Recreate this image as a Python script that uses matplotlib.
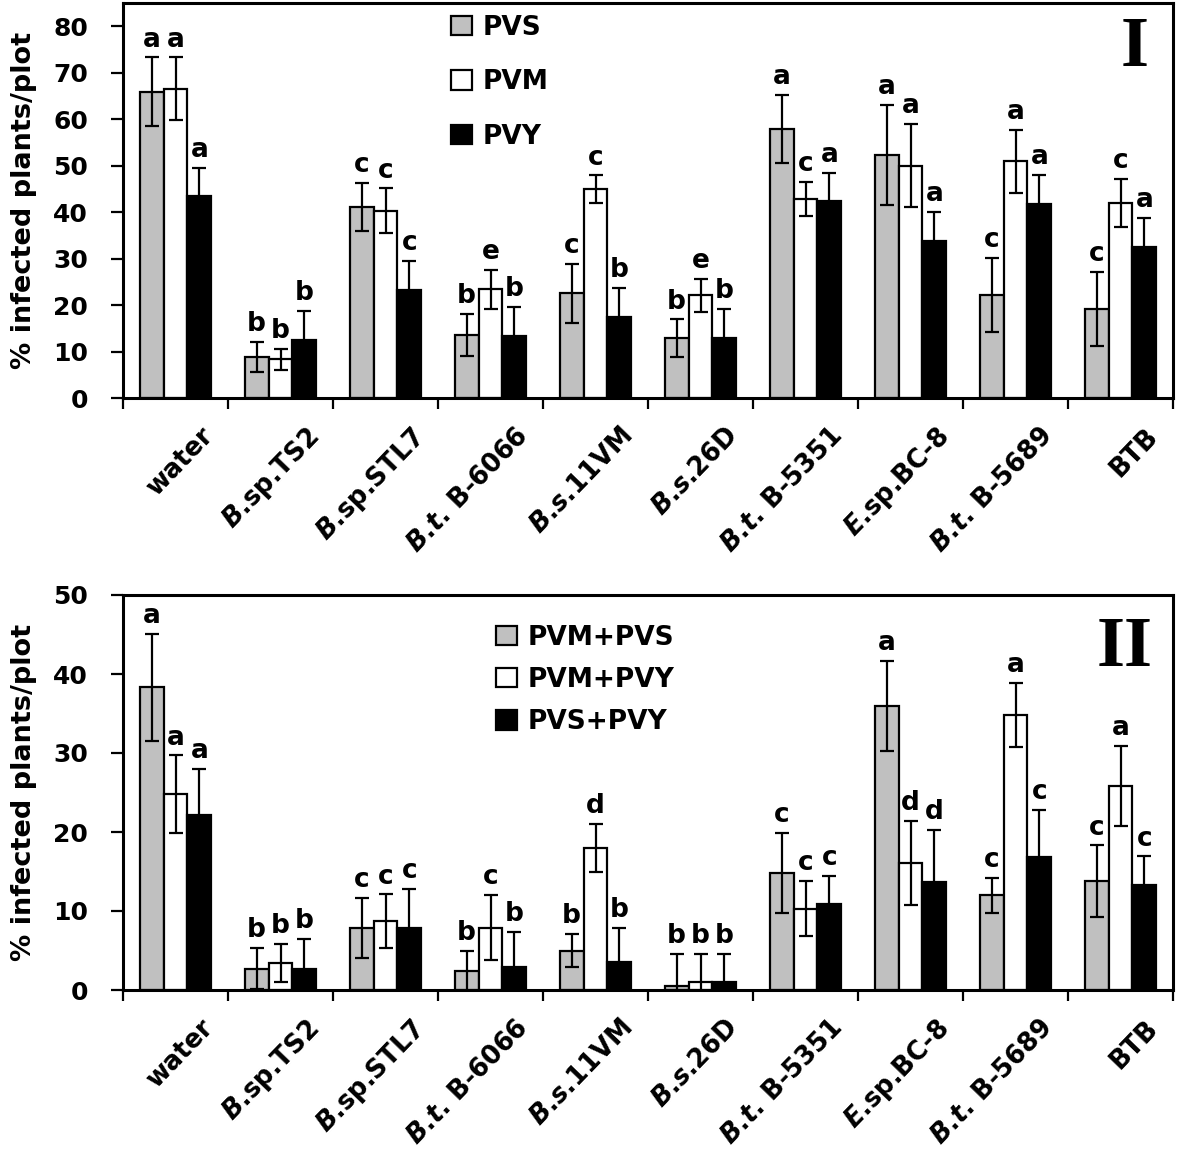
import matplotlib
matplotlib.use("Agg")
import matplotlib.pyplot as plt
import matplotlib.transforms as mtransforms
from matplotlib.patches import Patch
import numpy as np

plt.rcParams['font.family'] = ['DejaVu Sans']
plt.rcParams['font.weight'] = 'bold'
plt.rcParams['mathtext.fontset'] = 'dejavusans'

BI = r"$\mathbfit{B}$"
TI = r"$\mathbfit{t}$"
SI = r"$\mathbfit{s}$"
EI = r"$\mathbfit{E}$"
categories = ["water",
              BI + ".sp.TS2",
              BI + ".sp.STL7",
              BI + "." + TI + ". B-6066",
              BI + "." + SI + ".11VM",
              BI + "." + SI + ".26D",
              BI + "." + TI + ". B-5351",
              EI + ".sp.BC-8",
              BI + "." + TI + ". B-5689",
              "BTB"]

# Panel I
series1 = ["PVS", "PVM", "PVY"]
pvs = [65.9, 8.9, 41.1, 13.5, 22.5, 12.9, 57.9, 52.3, 22.1, 19.1]
pvs_err = [7.4, 3.2, 5.2, 4.5, 6.4, 4.0, 7.3, 10.8, 8.0, 8.0]
pvm = [66.6, 8.3, 40.3, 23.4, 44.9, 22.1, 42.8, 50.0, 50.9, 41.9]
pvm_err = [6.7, 2.3, 4.8, 4.2, 3.0, 3.5, 3.7, 8.9, 6.8, 5.2]
pvy = [43.4, 12.5, 23.3, 13.4, 17.5, 12.9, 42.3, 33.8, 41.8, 32.6]
pvy_err = [6.1, 6.2, 6.2, 6.2, 6.1, 6.2, 6.2, 6.2, 6.2, 6.1]
pvs_let = ["a", "b", "c", "b", "c", "b", "a", "a", "c", "c"]
pvm_let = ["a", "b", "c", "e", "c", "e", "c", "a", "a", "c"]
pvy_let = ["a", "b", "c", "b", "b", "b", "a", "a", "a", "a"]

# Panel II
series2 = ["PVM+PVS", "PVM+PVY", "PVS+PVY"]
ms = [38.3, 2.7, 7.9, 2.4, 5.0, 0.55, 14.8, 36.0, 12.0, 13.8]
ms_err = [6.8, 2.6, 3.8, 2.6, 2.1, 4.0, 5.1, 5.7, 2.2, 4.5]
my = [24.8, 3.4, 8.7, 7.9, 18.0, 1.05, 10.3, 16.1, 34.8, 25.8]
my_err = [4.9, 2.4, 3.4, 4.1, 3.0, 3.5, 3.5, 5.3, 4.1, 5.1]
sy = [22.1, 2.7, 7.9, 2.9, 3.6, 1.0, 10.9, 13.7, 16.8, 13.3]
sy_err = [5.9, 3.8, 4.9, 4.4, 4.3, 3.6, 3.5, 6.6, 6.0, 3.6]
ms_let = ["a", "b", "c", "b", "b", "b", "c", "a", "c", "c"]
my_let = ["a", "b", "c", "c", "d", "b", "c", "d", "a", "a"]
sy_let = ["a", "b", "c", "b", "b", "b", "c", "d", "c", "c"]

colors = ["#C0C0C0", "#FFFFFF", "#000000"]

W, H = 1177, 1153
fig = plt.figure(figsize=(W / 100, H / 100), dpi=100)

def px_axes(l, t, r, b):
    return fig.add_axes([l / W, 1 - b / H, (r - l) / W, (b - t) / H])

ax1 = px_axes(123, 3, 1173, 398)
ax2 = px_axes(123, 595, 1173, 990)

def draw(ax, vals, errs, lets, names, ymax, yticks, leg_anchor, labelspacing, roman, roman_xy):
    x = np.arange(len(categories))
    bw = 0.228
    for i, (v, e, L, c) in enumerate(zip(vals, errs, lets, colors)):
        xs = x + (i - 1) * bw
        ax.bar(xs, v, width=bw, color=c, edgecolor="black", linewidth=1.6, zorder=2)
        ax.errorbar(xs, v, yerr=e, fmt="none", ecolor="black", elinewidth=1.6,
                    capsize=5, capthick=1.6, zorder=3)
        for xi, vi, ei, li in zip(xs, v, e, L):
            ax.annotate(li, (xi, vi + ei), xytext=(0, 3.5), textcoords="offset points",
                        ha="center", va="bottom", fontsize=19, fontweight="bold")
    ax.set_xlim(-0.5, len(categories) - 0.5)
    ax.set_ylim(0, ymax)
    ax.set_yticks(yticks)
    ax.tick_params(axis="y", direction="out", length=9, width=1.6, pad=16, labelsize=18)
    ax.set_xticks(np.arange(len(categories) + 1) - 0.5)
    ax.set_xticklabels([])
    ax.tick_params(axis="x", which="major", direction="out", length=8, width=1.6)
    ax.set_xticks(x, minor=True)
    ax.set_xticklabels(categories, minor=True, rotation=46, ha="right", va="top",
                       rotation_mode="anchor", fontsize=18.5, fontweight="bold")
    ax.tick_params(axis="x", which="minor", length=0, pad=0)
    offset = mtransforms.ScaledTranslation(0.24, -0.25, fig.dpi_scale_trans)
    for lab in ax.xaxis.get_minorticklabels():
        lab.set_transform(lab.get_transform() + offset)
    for s in ax.spines.values():
        s.set_linewidth(2.2)
    ax.set_ylabel("% infected plants/plot", fontsize=19.5, fontweight="bold")
    handles = [Patch(facecolor=c, edgecolor="black", linewidth=1.6) for c in colors]
    ax.legend(handles, names, loc="upper left", bbox_to_anchor=leg_anchor, frameon=False,
              fontsize=19, handlelength=0.8, handleheight=0.75, handletextpad=0.4,
              labelspacing=labelspacing, borderpad=0, borderaxespad=0)
    ax.text(roman_xy[0], roman_xy[1], roman, transform=ax.transAxes, ha="center", va="center",
            fontsize=52, fontweight="bold", family="Liberation Serif")

draw(ax1, [pvs, pvm, pvy], [pvs_err, pvm_err, pvy_err], [pvs_let, pvm_let, pvy_let],
     series1, 85, np.arange(0, 81, 10), (0.312, 0.97), 1.08, "I", (0.963, 0.885))
draw(ax2, [ms, my, sy], [ms_err, my_err, sy_err], [ms_let, my_let, sy_let],
     series2, 50, np.arange(0, 51, 10), (0.355, 0.925), 0.62, "II", (0.954, 0.865))

for ax in (ax1, ax2):
    ax.yaxis.set_label_coords(-0.082, 0.5)

fig.savefig("out.png", dpi=100)
